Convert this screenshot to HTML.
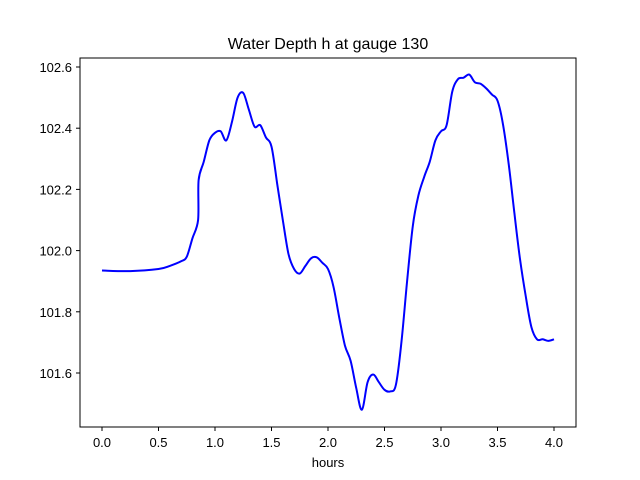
<!DOCTYPE html>
<html><head><meta charset="utf-8"><style>
body{margin:0;background:#fff;}
svg{display:block;font-family:"Liberation Sans","DejaVu Sans",sans-serif;}
</style></head><body>
<svg id="chart" width="640" height="480">
<rect width="640" height="480" fill="#fff"/>
<text x="328" y="49" font-size="16" text-anchor="middle">Water Depth h at gauge 130</text>
<g id="xt"></g>
<g id="yt"></g>
<path id="line" fill="none" stroke="#0000ff" stroke-width="2" stroke-linejoin="round"/>
<rect x="80" y="58" width="496" height="369" fill="none" stroke="#000" stroke-width="1"/>
<text x="328" y="467" font-size="13" text-anchor="middle">hours</text>
</svg>
<script>
const hours=[0,0.25,0.5,0.6,0.7,0.75,0.8,0.85,0.855,0.9,0.95,1.0,1.05,1.1,1.15,1.2,1.25,1.3,1.35,1.4,1.45,1.5,1.55,1.6,1.65,1.7,1.75,1.8,1.85,1.9,1.95,2.0,2.05,2.1,2.15,2.2,2.25,2.3,2.35,2.4,2.45,2.5,2.55,2.6,2.65,2.7,2.75,2.8,2.85,2.9,2.95,3.0,3.05,3.1,3.15,3.2,3.25,3.3,3.35,3.4,3.45,3.5,3.55,3.6,3.65,3.7,3.75,3.8,3.85,3.9,3.95,4.0];
const depth=[101.935,101.933,101.94,101.95,101.965,101.98,102.04,102.1,102.23,102.29,102.36,102.385,102.39,102.36,102.42,102.5,102.515,102.46,102.405,102.41,102.37,102.34,102.22,102.1,101.99,101.94,101.925,101.95,101.975,101.978,101.96,101.94,101.88,101.78,101.69,101.64,101.55,101.48,101.57,101.595,101.57,101.545,101.54,101.56,101.7,101.9,102.08,102.18,102.24,102.29,102.36,102.39,102.41,102.52,102.56,102.565,102.575,102.55,102.545,102.53,102.51,102.49,102.41,102.28,102.12,101.97,101.85,101.75,101.71,101.71,101.705,101.71];
const xTicks=[0,0.5,1.0,1.5,2.0,2.5,3.0,3.5,4.0];
const xLabels=["0.0","0.5","1.0","1.5","2.0","2.5","3.0","3.5","4.0"];
const yTicks=[101.6,101.8,102.0,102.2,102.4,102.6];
const yLabels=["101.6","101.8","102.0","102.2","102.4","102.6"];
const X=v=>102+v*113;
const Y=v=>67+(102.6-v)*306;
const NS="http://www.w3.org/2000/svg";
const xt=document.getElementById('xt'),yt=document.getElementById('yt');
xTicks.forEach((t,i)=>{
 const l=document.createElementNS(NS,'line');
 
 
 l.setAttribute('x1',X(t));l.setAttribute('x2',X(t));l.setAttribute('y1',427);l.setAttribute('y2',431);l.setAttribute('stroke','#000');
 xt.appendChild(l);
 const s=document.createElementNS(NS,'text');
 
 
 s.setAttribute('x',X(t));s.setAttribute('y',447);s.setAttribute('font-size','13');s.setAttribute('text-anchor','middle');
 s.textContent=xLabels[i];xt.appendChild(s);
});
yTicks.forEach((t,i)=>{
 const l=document.createElementNS(NS,'line');
 
 
 l.setAttribute('x1',76);l.setAttribute('x2',80);l.setAttribute('y1',Y(t));l.setAttribute('y2',Y(t));l.setAttribute('stroke','#000');
 yt.appendChild(l);
 const s=document.createElementNS(NS,'text');
 
 
 s.setAttribute('x',72);s.setAttribute('y',Y(t)+5);s.setAttribute('font-size','13');s.setAttribute('text-anchor','end');
 s.textContent=yLabels[i];yt.appendChild(s);
});
const P=hours.map((h,i)=>[X(h),Y(depth[i])]);
let d='M'+P[0][0].toFixed(1)+','+P[0][1].toFixed(1);
for(let i=0;i<P.length-1;i++){
 const p0=P[Math.max(0,i-1)],p1=P[i],p2=P[i+1],p3=P[Math.min(P.length-1,i+2)];
 const c1x=p1[0]+(p2[0]-p0[0])/6,c1y=p1[1]+(p2[1]-p0[1])/6;
 const c2x=p2[0]-(p3[0]-p1[0])/6,c2y=p2[1]-(p3[1]-p1[1])/6;
 d+='C'+c1x.toFixed(1)+','+c1y.toFixed(1)+' '+c2x.toFixed(1)+','+c2y.toFixed(1)+' '+p2[0].toFixed(1)+','+p2[1].toFixed(1);
}
document.getElementById('line').setAttribute('d',d);
</script>
</body></html>
